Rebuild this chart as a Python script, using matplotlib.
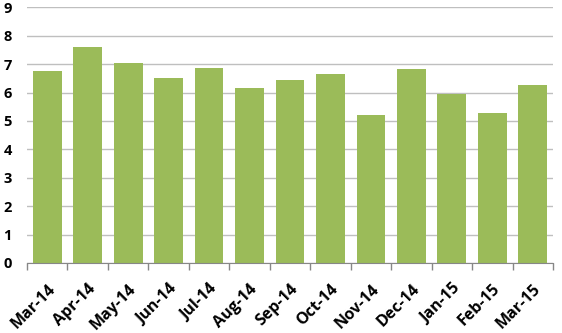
import matplotlib.pyplot as plt
import numpy as np

months = ["Mar-14", "Apr-14", "May-14", "Jun-14", "Jul-14", "Aug-14", "Sep-14",
          "Oct-14", "Nov-14", "Dec-14", "Jan-15", "Feb-15", "Mar-15"]
values = [6.76, 7.59, 7.04, 6.51, 6.87, 6.16, 6.44, 6.65, 5.21, 6.82, 5.95, 5.28, 6.27]
y_ticks = list(range(0, 10))

plt.rcParams['font.family'] = ['Open Sans', 'DejaVu Sans']

fig = plt.figure(figsize=(5.62, 3.33), dpi=100)
ax = fig.add_axes([27 / 562, 1 - 263 / 333, 526 / 562, 255.6 / 333])

x = np.arange(len(months))
ax.bar(x, values, width=0.71, color="#9BBB59", zorder=2)

ax.set_xlim(-0.5, len(months) - 0.5)
ax.set_ylim(0, 9)
ax.set_yticks(y_ticks)
ax.set_yticklabels([str(t) for t in y_ticks], fontsize=10.5, fontweight="bold")
ax.yaxis.grid(True, color="#BFBFBF", linewidth=1, zorder=0)
ax.tick_params(axis="y", length=0, pad=11)

# ticks sit between categories, labels at category centres
ax.set_xticks(np.arange(-0.5, len(months), 1.0))
ax.set_xticklabels([])
ax.set_xticks(x, minor=True)
ax.set_xticklabels(months, minor=True, rotation=45, ha="right", va="top",
                   rotation_mode="anchor", fontsize=11.5, fontweight="bold")
ax.tick_params(axis="x", which="major", length=5, color="#878787", width=1)
ax.tick_params(axis="x", which="minor", length=0, pad=13)

for side in ["top", "right", "left"]:
    ax.spines[side].set_visible(False)
ax.spines["bottom"].set_color("#878787")

fig.savefig("out.png", dpi=100)
